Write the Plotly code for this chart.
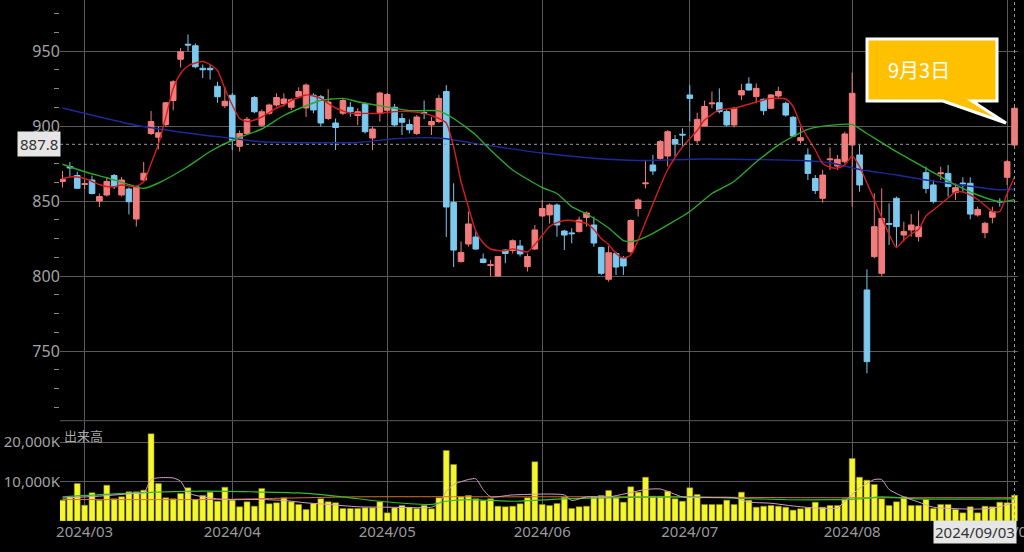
import pandas as pd
import plotly.graph_objects as go
from plotly.subplots import make_subplots

# ---------------- data ----------------
holidays = ["2024-03-20", "2024-04-29", "2024-05-03", "2024-05-06", "2024-07-15", "2024-08-12"]
dates = [d.strftime("%Y-%m-%d") for d in pd.bdate_range("2024-02-27", "2024-09-03")
         if d.strftime("%Y-%m-%d") not in holidays]

opens = [863, 873, 867, 861, 864, 850, 854, 867, 854, 858,
         838, 864, 895, 892.5, 901, 917, 944.5, 954.5, 953.5, 938.5,
         938.5, 926.5, 913.5, 920.5, 886.5, 895, 919, 900.5, 908.5, 914,
         915, 912.5, 919.5, 912, 920.5, 919.5, 905, 902, 908.5, 912.5,
         907, 914.7, 892, 909, 910.5, 912.5, 905, 901, 895, 909,
         900.7, 903, 923, 849, 809.6, 821.3, 826, 811.3, 807, 800,
         817.3, 817, 820, 806.2, 818, 840, 840.7, 847.3, 830, 828.7,
         829.6, 839, 834, 819, 797.8, 815, 811.8, 816.2, 845, 861.5,
         874, 878.4, 880, 891, 894.5, 920.7, 890.2, 900, 914.8, 915.5,
         909.6, 900.7, 920.7, 928, 919.6, 917.8, 911.8, 920, 915.1, 905.8,
         890.2, 880.7, 865, 851.8, 877.5, 873.3, 876.2, 887.3, 880.7, 790.7,
         812.9, 801.8, 835, 851.8, 827.3, 830.7, 826.2, 868.9, 860.7, 868.2,
         868.4, 855.6, 862, 861.8, 840.7, 828.9, 839.1, 849.8, 865.8, 887.3]
highs = [870, 876, 869.5, 864, 867, 855, 866, 868, 866, 859,
         860.5, 876, 910, 899.5, 916, 930.5, 952, 961, 955, 941,
         941, 929.5, 926, 922, 897, 906, 920, 911, 915, 921.8,
         921.8, 918.5, 925.8, 928.4, 921.8, 920.7, 924.5, 905, 918.5, 916,
         911.8, 916, 899.5, 922.9, 922, 914.7, 908.5, 904.4, 907.3, 917,
         906, 920.7, 927.3, 861.8, 823, 843, 829.6, 815, 810.7, 813.3,
         818, 824.4, 824, 815, 834, 850.7, 848.4, 848.4, 830.7, 831.8,
         839.6, 843, 839.6, 819.5, 820, 816.2, 813.3, 837.8, 851.8, 877.3,
         880.7, 890.7, 897.3, 894, 898.4, 927.3, 908.9, 916.9, 923, 925.1,
         911.1, 912.9, 928, 932.4, 928.4, 918.4, 921.3, 926.2, 916.2, 906.7,
         899.1, 885.1, 867.3, 870.7, 885.8, 880.7, 896.2, 935.6, 887.3, 804.4,
         855.1, 858.4, 848.4, 852.9, 836.2, 841.3, 843.6, 872.9, 864, 872.9,
         874, 861.8, 865.8, 865.8, 846.2, 836.2, 846.2, 851.8, 877.3, 912.9]
lows = [859, 866, 858, 858, 854.5, 846, 853, 858, 853, 841,
        833, 863.5, 894, 884.5, 899.5, 910.5, 939, 950, 938.5, 932,
        931, 915.5, 912, 884, 883, 894, 908.5, 899.5, 907.5, 913,
        913, 910.7, 918.5, 906, 908.5, 899.6, 904, 884, 907.3, 906.2,
        900.7, 895, 884, 903, 908.5, 899.6, 894, 895, 894, 904.5,
        894, 901.8, 826, 806, 809, 819.5, 817.3, 808.5, 799.6, 799.6,
        808.5, 815, 813, 803, 817.3, 839.6, 835, 826.2, 817.3, 821.8,
        829, 833, 819.5, 800.7, 796.2, 800.7, 800.7, 815.1, 839.6, 858.4,
        867.3, 877.3, 873, 879.5, 886.2, 903, 888.4, 899.6, 911.8, 908.4,
        899.6, 899.1, 917.3, 923.6, 915.1, 907.3, 911.1, 918.4, 906.2, 892.9,
        888.4, 864, 854.7, 848.9, 870.7, 870.7, 875, 846.2, 856.2, 735.1,
        811.8, 800, 820.7, 819.6, 822.9, 826.2, 822.9, 855.1, 848.4, 864,
        852.9, 850.7, 856.2, 837.8, 839.6, 825.1, 835.1, 846.2, 860.7, 886.7]
closes = [864.5, 872, 858.5, 861.5, 855, 853, 863, 859.5, 864, 849.5,
          859.5, 868.5, 903, 895.5, 915.5, 929.5, 949.5, 954, 939.5, 937.5,
          937.5, 919.5, 916.5, 890.5, 895, 904.5, 909.5, 909.5, 914, 919,
          918, 917.5, 923, 927.3, 910.7, 902, 916, 899, 917, 909.5,
          909.5, 896.2, 898, 922, 921, 900.7, 902.5, 897.5, 906, 908.5,
          903, 918.4, 846, 817.3, 815.6, 834.7, 818, 809, 807.5, 813,
          815, 823.5, 814.7, 813, 830.7, 845, 847.3, 834, 827.3, 828.2,
          837.3, 842, 822, 801.8, 815.5, 806, 806.7, 837, 850.7, 862,
          870, 889.6, 896.2, 888, 894, 918.4, 904.4, 913, 915.3, 909.6,
          900.7, 911.8, 923.6, 924, 925.1, 910.2, 920.7, 923, 907.3, 893.3,
          892.2, 868.4, 857, 867.3, 878, 877.8, 894.7, 921.8, 860.7, 742.9,
          832.9, 838.4, 834.5, 832.9, 829.6, 834, 832.9, 858.4, 849.6, 868.7,
          859.6, 858.9, 861.5, 841.3, 844.4, 835.1, 842.9, 849.4, 876.2, 911.8]
volumes_k = [5270, 6120, 9490, 4000, 7140, 5270, 9070, 5620, 6120, 7390,
             7390, 7800, 22080, 9490, 5870, 5620, 6960, 8400, 5440, 6460,
             7300, 5010, 8560, 5270, 3590, 4860, 3750, 8230, 4350, 4610,
             5870, 4860, 4180, 2910, 4430, 5620, 4860, 4610, 3160, 3160,
             3160, 3330, 3330, 4860, 2070, 3330, 3920, 3500, 3160, 3920,
             3080, 5870, 17850, 14310, 6120, 6460, 5620, 5190, 5620, 3750,
             3590, 3750, 4350, 5870, 14990, 4180, 3920, 4430, 6030, 3160,
             3590, 3750, 6120, 6460, 7720, 5870, 4770, 8650, 7300, 11090,
             6290, 6290, 7550, 5620, 5010, 8400, 6710, 4180, 4180, 4180,
             5270, 4180, 7300, 5270, 3500, 3750, 3920, 3750, 3500, 2740,
             3080, 3330, 4770, 3500, 3920, 3920, 5620, 15820, 11090, 10330,
             9240, 5620, 3920, 4860, 6120, 3920, 3920, 5440, 3160, 4180,
             4180, 2910, 2070, 3590, 2070, 3750, 3590, 4770, 4610, 6530]

# moving-average lines: (trading-day number, value)
ma5_pts = [(0, 865), (1, 866), (2, 866), (3, 865), (4, 863), (5, 861), (6, 859.6), (7, 859.6), (8, 860.7),
           (9, 860), (10, 859.6), (11, 863), (12, 875), (13, 888), (14, 906), (15, 925), (16, 935), (17, 940),
           (18, 942), (19, 943), (20, 941), (21, 937), (22, 925), (23, 914), (24, 905), (25, 903), (26, 904),
           (27, 906), (28, 909), (29, 912), (30, 914), (31, 917), (32, 919), (33, 920.7), (34, 920), (35, 918.4),
           (36, 915), (37, 912), (38, 910), (39, 908.4), (41, 908.4), (43, 908.4), (45, 909.6), (47, 909.6),
           (49, 908.4), (51, 905), (52, 902), (53, 886), (54, 863), (55, 846), (56, 830), (57, 822), (58, 818),
           (59, 817), (60, 817), (61, 818), (62, 817), (63, 816), (64, 821), (65, 827), (66, 833), (67, 835.6),
           (68, 837), (69, 837), (70, 836), (71, 835), (72, 831), (73, 825), (74, 821), (75, 815), (76, 812),
           (77, 814), (78, 824), (79, 836), (80, 848), (81, 860), (82, 871), (83, 879), (84, 886), (86, 897),
           (87, 904), (89, 910.7), (91, 911.8), (94, 916), (96, 918.4), (98, 918), (99, 913), (100, 901),
           (101, 892), (102, 884), (103, 875), (104, 872.5), (105, 872), (106, 874), (107, 880), (108, 873),
           (109, 862), (110, 851), (111, 839), (112, 828), (113, 819), (114, 824), (115, 828), (116, 831),
           (117, 840), (118, 844), (119, 848), (120, 852), (121, 856), (122, 856), (123, 854), (124, 851),
           (125, 847), (126, 843), (127, 843), (128, 855), (129, 866)]
ma25_pts = [(0, 874.5), (3, 869.5), (6, 865.5), (10, 859.5), (11, 858.4), (13, 862), (17, 873), (20, 883),
            (23, 890.5), (27, 898), (30, 907), (33, 913.5), (35, 917), (38, 918.4), (40, 916.2), (43, 913.5),
            (47, 910.2), (51, 910), (53, 905), (56, 894), (58, 884), (61, 870.7), (65, 859), (67, 855),
            (69, 846.2), (71, 841.5), (74, 832), (76, 823.6), (77, 822.9), (78, 824), (80, 828.4), (85, 843),
            (88, 855), (91, 863), (94, 876), (97, 887.3), (99, 893), (101, 897.8), (104, 900.4), (107, 901),
            (109, 895), (113, 882.9), (117, 871.8), (121, 860.7), (124, 854), (127, 849.5), (128, 849.8),
            (129, 851)]
ma75_pts = [(0, 912), (10, 900.5), (19, 894), (23, 891.8), (27, 889.5), (40, 889), (45, 891.5), (51, 892),
            (57, 887.5), (65, 882), (72, 878.5), (78, 877), (87, 878), (100, 877), (104, 875.5), (108, 871),
            (113, 867.3), (117, 864), (122, 860.5), (127, 857.5), (129, 858)]
vma5_pts = [(0, 5800), (5, 6300), (10, 7000), (11, 7000), (12, 10500), (13, 10940), (15, 10900), (16, 10080),
            (17, 7140), (19, 6120), (22, 5440), (27, 5440), (30, 5200), (33, 4600), (36, 4200), (40, 3600),
            (44, 3500), (50, 3500), (51, 4400), (52, 7500), (53, 9240), (55, 10500), (56, 10700), (57, 7970),
            (58, 6120), (61, 6600), (68, 6600), (69, 5200), (71, 6100), (74, 6100), (79, 7970), (81, 8100),
            (84, 6100), (86, 5900), (91, 5900), (93, 4800), (96, 4500), (99, 3800), (102, 3300), (105, 3300),
            (106, 5000), (108, 8300), (110, 10500), (111, 10500), (112, 8000), (114, 6100), (116, 4800),
            (118, 3500), (123, 3000), (125, 3100), (127, 3600), (129, 4700)]
vma25_pts = [(0, 6120), (10, 7100), (19, 7550), (32, 7100), (38, 6100), (43, 5000), (50, 4200), (52, 5000),
             (55, 5400), (61, 5000), (68, 5600), (75, 5900), (84, 6100), (89, 5900), (98, 5400), (105, 5400),
             (108, 5600), (111, 6100), (116, 5600), (129, 5600)]
vma75_pts = [(0, 5440), (20, 5440), (40, 6120), (60, 6120), (80, 6120), (100, 5900), (129, 5900)]

month_ticks = ["2024-03-01", "2024-04-01", "2024-05-01", "2024-06-03", "2024-07-01", "2024-08-01", "2024-09-02"]
month_labels = ["2024/03", "2024/04", "2024/05", "2024/06", "2024/07", "2024/08", "2024/09"]
cursor_price = 887.8
cursor_date = "2024-09-03"
callout_text = "9月3日"

# ---------------- layout helpers ----------------
W, H = 1024, 552
ML, MR, MT, MB = 60, 6, 0, 31
PW, PH = W - ML - MR, H - MT - MB


def px(xp):
    return (xp - ML) / PW


def py(yp):
    return 1 - (yp - MT) / PH


GRID = "#5a5a5a"
TXT = "#a3a3a3"
FONT = "Noto Sans, Noto Sans CJK JP"
UP, DOWN = "#f27b7b", "#7cc8ee"

fig = make_subplots(rows=2, cols=1, shared_xaxes=True, vertical_spacing=0)

fig.add_trace(go.Candlestick(
    x=dates, open=opens, high=highs, low=lows, close=closes,
    increasing=dict(line=dict(color=UP, width=1), fillcolor=UP),
    decreasing=dict(line=dict(color=DOWN, width=1), fillcolor=DOWN),
    whiskerwidth=0, hoverinfo="skip"), row=1, col=1)


def line_from(pts, color, width, row):
    fig.add_trace(go.Scatter(
        x=[dates[i] for i, _ in pts], y=[v for _, v in pts], mode="lines",
        line=dict(color=color, width=width, shape="spline", smoothing=0.6),
        hoverinfo="skip"), row=row, col=1)


line_from(ma75_pts, "#1c2a98", 1.4, 1)
line_from(ma25_pts, "#2ca62c", 1.4, 1)
line_from(ma5_pts, "#d21e1e", 1.4, 1)

fig.add_trace(go.Bar(x=dates, y=volumes_k,
                     marker=dict(color="#f6f630", line=dict(color="#8c8c00", width=0.5)),
                     hoverinfo="skip"), row=2, col=1)
line_from(vma75_pts, "#d8702a", 1, 2)
line_from(vma25_pts, "#2fbf2f", 1.2, 2)
line_from(vma5_pts, "#d2a0c8", 1, 2)

price_bottom = py(420)
vol_top = py(420.7)

xcommon = dict(type="category", categoryorder="array", categoryarray=dates,
               range=[-0.34, len(dates) - 1 + 0.47], tickmode="array", tickvals=month_ticks,
               ticktext=month_labels, showgrid=True, gridcolor=GRID, gridwidth=1,
               zeroline=False, showline=False, ticks="", automargin=False)
fig.update_layout(
    width=W, height=H, margin=dict(l=ML, r=MR, t=MT, b=MB, autoexpand=False),
    paper_bgcolor="#000000", plot_bgcolor="#000000", showlegend=False,
    bargap=0.2, boxgap=0.2, boxgroupgap=0.05, hovermode=False,
    font=dict(family=FONT, color=TXT, size=15),
    xaxis=dict(**xcommon, showticklabels=False, rangeslider=dict(visible=False)),
    xaxis2=dict(**xcommon, showticklabels=True, tickfont=dict(size=15, color="#9a9a9a")),
    yaxis=dict(domain=[price_bottom, 1], range=[704, 984], tick0=0, dtick=50,
               showgrid=True, gridcolor=GRID, zeroline=False, showline=False, automargin=False,
               ticks="outside", ticklen=0, tickcolor="#000", ticklabelstandoff=-4,
               tickfont=dict(size=16, color=TXT),
               minor=dict(ticks="outside", ticklen=5, tickcolor="#8a8a8a", tick0=0, dtick=12.5,
                          showgrid=False)),
    yaxis2=dict(domain=[0, vol_top], range=[0, 25400], tickmode="array",
                tickvals=[10000, 20000], ticktext=["10,000K", "20,000K"],
                showgrid=True, gridcolor=GRID, zeroline=False, showline=False, automargin=False,
                ticks="outside", ticklen=0, tickcolor="#000", ticklabelstandoff=-4,
                tickfont=dict(size=15, color=TXT)),
)

# volume pane top border
fig.add_shape(type="line", xref="paper", yref="paper", x0=0, x1=1, y0=vol_top, y1=vol_top,
              line=dict(color=GRID, width=1))
# cursor cross lines
fig.add_shape(type="line", xref="paper", yref="y", x0=0, x1=1, y0=cursor_price, y1=cursor_price,
              line=dict(color="#9a9a9a", width=1, dash="dot"))
fig.add_shape(type="line", xref="x", yref="paper", x0=cursor_date, x1=cursor_date, y0=0, y1=1,
              line=dict(color="#9a9a9a", width=1, dash="dot"))

# callout bubble
pts = [(867, 39), (997, 39), (997, 101), (972, 101), (1006, 123), (943, 101), (867, 101)]
path = "M " + " L ".join(f"{px(a):.4f},{py(b):.4f}" for a, b in pts) + " Z"
fig.add_shape(type="path", xref="paper", yref="paper", path=path,
              fillcolor="#ffc000", line=dict(color="#ffffff", width=3))
fig.add_annotation(xref="paper", yref="paper", x=px(886), y=py(69), xanchor="left", yanchor="middle",
                   text=callout_text, showarrow=False,
                   font=dict(family="Noto Sans CJK JP", size=20, color="#ffffff"))

# cursor labels
fig.add_annotation(xref="paper", yref="y", x=px(61), y=cursor_price, xanchor="right", yanchor="middle",
                   text=f"{cursor_price:.1f}", showarrow=False, bgcolor="#e6e6e6", borderpad=2,
                   font=dict(size=15, color="#333333"))
fig.add_annotation(xref="x", yref="paper", x=cursor_date, y=py(532), xanchor="right", yanchor="middle",
                   xshift=2, text=cursor_date.replace("-", "/"), showarrow=False, bgcolor="#e6e6e6",
                   borderpad=1, font=dict(size=15, color="#333333"))

# volume pane title
fig.add_annotation(xref="paper", yref="paper", x=px(62), y=py(435), xanchor="left", yanchor="middle",
                   text="出来高", showarrow=False,
                   font=dict(family="Noto Sans CJK JP", size=13, color="#a8a8a8"))

fig.write_html("out.html", config={"displayModeBar": False},
               post_script="document.body.style.margin='0px';document.body.style.background='#000';")
